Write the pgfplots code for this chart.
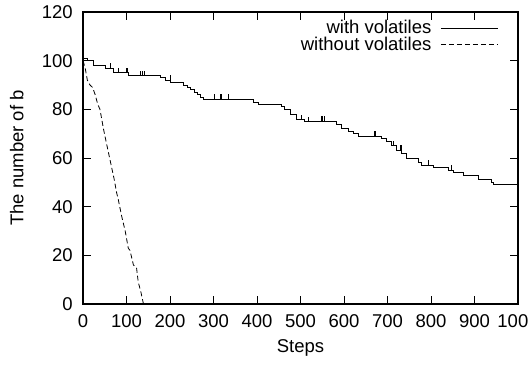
\documentclass[border=0pt]{standalone}
\usepackage{pgfplots}
\pgfplotsset{compat=1.18}
\usepackage{fontspec}
\setmainfont{Liberation Sans}
\begin{document}
\fontsize{18.5}{22}\selectfont
\begin{tikzpicture}
\begin{axis}[
  name=ax,
  width=435pt, height=292pt, scale only axis,
  xmin=0, xmax=1000, ymin=0, ymax=120,
  xtick={0,100,...,1000}, ytick={0,20,...,120},
  tick align=inside, major tick length=8pt,
  tick style={line width=0.9pt, black},
  axis line style={line width=1.2pt},
  /pgf/number format/assume math mode=true,
  /pgf/number format/1000 sep={},
  xticklabel style={yshift=-4pt},
  yticklabel style={xshift=-4pt},
  xlabel={Steps}, ylabel={The number of b},
  every axis x label/.style={at={(axis description cs:0.5,-0.151)}, anchor=center},
  every axis y label/.style={at={(axis description cs:-0.152,0.5)}, rotate=90, anchor=center},
  legend style={at={(0.955,0.975)}, anchor=north east, draw=none, fill=none,
    row sep=-2pt, inner sep=0pt, font=\fontsize{18.5}{22}\selectfont,
    nodes={inner sep=1pt},
    /tikz/every odd column/.append style={column sep=8pt}},
  legend cell align=right,
  legend plot pos=right,
  legend image code/.code={\draw[#1] (0pt,0pt) -- (57pt,0pt);},
]
\addplot[const plot, black, line width=0.8pt] coordinates {
(0,101) (10,100) (24,98) (51,97) (62,99) (63,97) (70,95) (81,97) (82,95)
(100,97) (101,95) (104,94) (131,95.5) (132,94) (136,95.5) (137,94) (141,95.5) (142,94)
(177,93) (190,92) (200,94) (201,91) (231,90) (240,89) (246,88) (255,87) (262,86)
(270,85) (277,84) (302,86) (303,84) (317,86) (318,84) (334,86) (335,84)
(391,83) (403,82) (455,81) (463,80) (476,78) (491,76) (501,77.5) (502,76)
(510,75) (518,76.5) (519,75) (549,77) (550,75) (555,77) (556,75)
(583,74) (594,72) (610,71) (621,70) (633,69) (671,71) (672,69)
(687,68) (698,67) (709,65) (713,67) (714,65) (721,63) (730,65) (731,63) (732,62)
(744,60) (771,58) (779,57) (794,59) (795,57) (806,56) (840,55) (846,57) (847,55)
(851,54) (874,53) (909,51) (939,50) (943,49) (1000,49)
};
\addlegendentry{with volatiles}
\addplot[black, line width=0.8pt, dash pattern=on 5pt off 3pt] coordinates {
(0,100) (5,97) (10,92) (16,90) (22,89) (28,86) (34,82) (39,80) (47,72) (54,66)
(66,56) (72,51) (77,46) (81,43) (89,36) (97,30) (104,23) (108,22) (116,16)
(123,15) (127,9) (133,5) (139,0)
};
\addlegendentry{without volatiles}
\end{axis}
\pgfresetboundingbox
\path[use as bounding box] ([xshift=-83pt,yshift=-61pt]ax.south west) rectangle ([xshift=11pt,yshift=12pt]ax.north east);
\end{tikzpicture}
\end{document}
